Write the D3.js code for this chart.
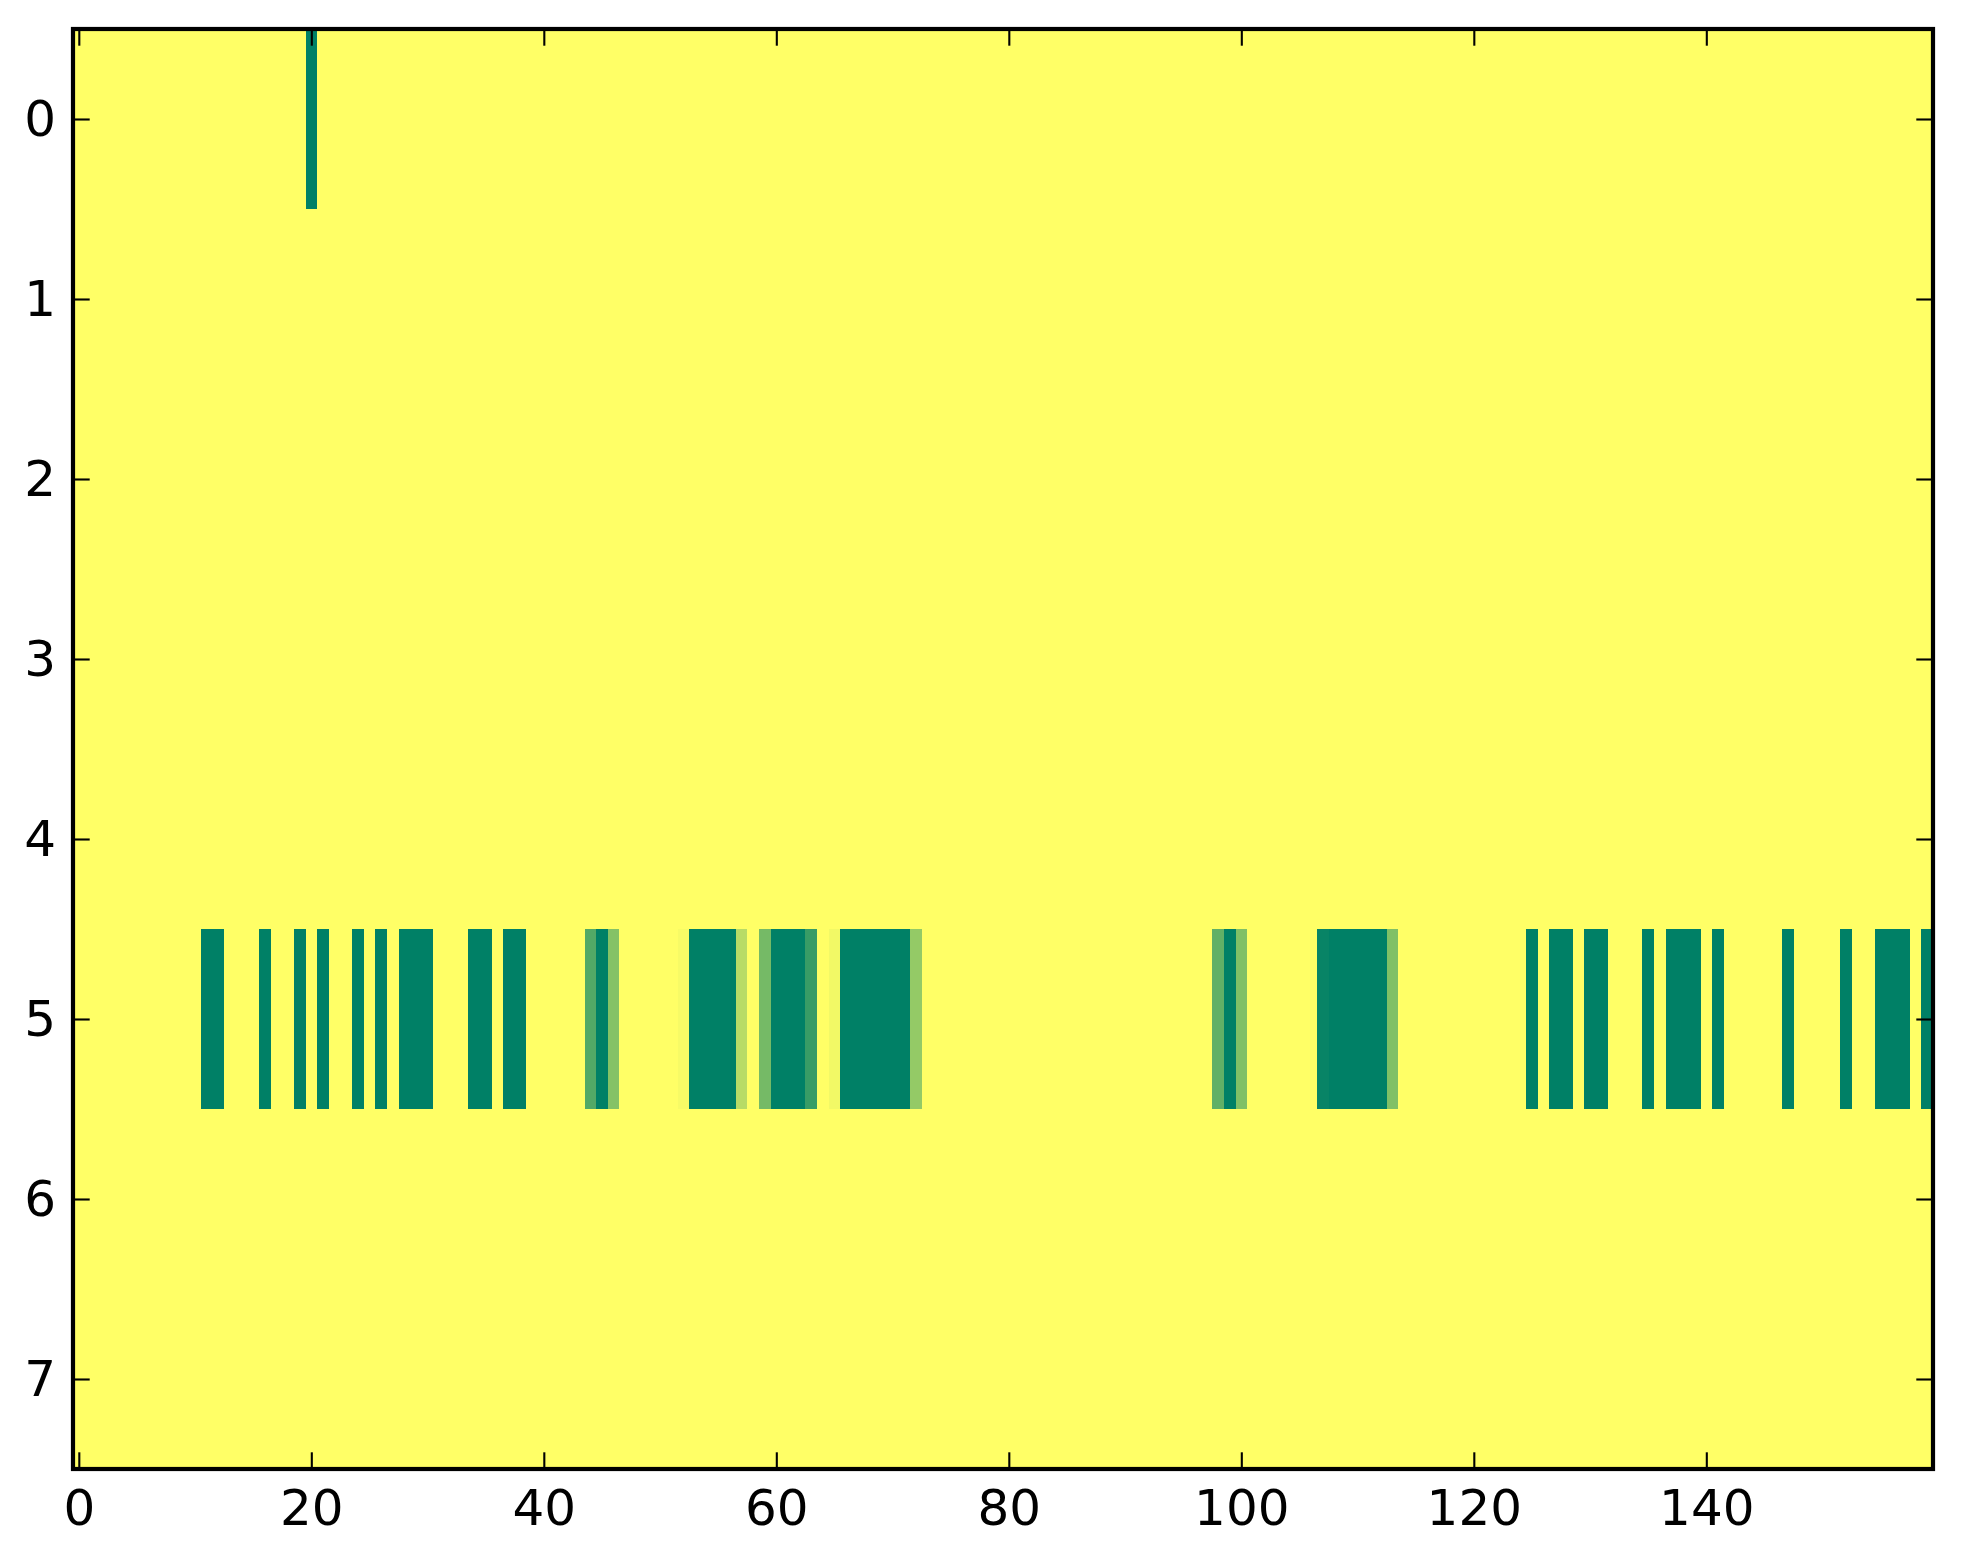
<!DOCTYPE html>
<html lang="en">
<head>
  <meta charset="UTF-8" />
  <title>Heatmap</title>
  <script src="https://d3js.org/d3.v7.min.js"></script>
  <style>
    body { margin: 0; background: #fff; }
    svg { display: block; font-family: "DejaVu Sans", sans-serif; }
    .tick text { font-size: 50px; fill: #000; }
    .tick line { stroke: #000; stroke-width: 2.1px; }
  </style>
</head>
<body>
  <svg width="1963" height="1564"></svg>

  <script>
    // grid: 8 rows x 160 columns, background value 1 (yellow)
    const rowIds = [0, 1, 2, 3, 4, 5, 6, 7];
    const colCount = 160;
    const baseValue = 1;

    // non-background cells as [column, value]
    const row0Cells = [[20, 0]];
    const row5Cells = [
      [11, 0], [12, 0], [16, 0], [19, 0], [21, 0], [24, 0], [26, 0],
      [28, 0], [29, 0], [30, 0], [34, 0], [35, 0], [37, 0], [38, 0],
      [44, 0.32], [45, 0], [46, 0.52],
      [52, 0.97], [53, 0], [54, 0], [55, 0], [56, 0], [57, 0.72],
      [59, 0.46], [60, 0], [61, 0], [62, 0], [63, 0.22],
      [65, 0.95], [66, 0], [67, 0], [68, 0], [69, 0], [70, 0], [71, 0], [72, 0.58],
      [98, 0.38], [99, 0], [100, 0.5],
      [107, 0.03], [108, 0], [109, 0], [110, 0], [111, 0], [112, 0], [113, 0.5],
      [125, 0], [127, 0], [128, 0], [130, 0], [131, 0], [135, 0],
      [137, 0], [138, 0], [139, 0], [141, 0], [147, 0], [152, 0],
      [155, 0], [156, 0], [157, 0], [159, 0]
    ];
    const specialCells = { 0: row0Cells, 5: row5Cells };

    const xTicks = [0, 20, 40, 60, 80, 100, 120, 140];
    const yTicks = [0, 1, 2, 3, 4, 5, 6, 7];

    // build the full grid
    const cells = [];
    rowIds.forEach(r => {
      const over = new Map(specialCells[r] || []);
      for (let c = 0; c < colCount; c++) {
        cells.push({ row: r, col: c, value: over.has(c) ? over.get(c) : baseValue });
      }
    });

    const plotL = 73, plotR = 1933, plotT = 29, plotB = 1469;

    const x = d3.scaleLinear().domain([-0.5, colCount - 0.5]).range([plotL, plotR]);
    const y = d3.scaleLinear().domain([-0.5, rowIds.length - 0.5]).range([plotT, plotB]);

    // matplotlib "summer" colormap
    const color = d3.scaleLinear()
      .domain([0, 1])
      .range(["#008066", "#ffff66"])
      .interpolate(d3.interpolateRgb);

    const svg = d3.select("svg");

    svg.append("g")
      .selectAll("rect")
      .data(cells)
      .join("rect")
      .attr("x", d => x(d.col - 0.5))
      .attr("y", d => y(d.row - 0.5))
      .attr("width", d => x(d.col + 0.5) - x(d.col - 0.5) + 0.4)
      .attr("height", d => y(d.row + 0.5) - y(d.row - 0.5) + 0.4)
      .attr("fill", d => color(d.value))
      .attr("shape-rendering", "crispEdges");

    const tickLen = 16.7;

    const xb = svg.append("g")
      .attr("transform", `translate(0,${plotB})`)
      .call(d3.axisBottom(x).tickValues(xTicks).tickSizeInner(-tickLen).tickSizeOuter(0).tickPadding(20));
    const xt = svg.append("g")
      .attr("transform", `translate(0,${plotT})`)
      .call(d3.axisTop(x).tickValues(xTicks).tickSizeInner(-tickLen).tickSizeOuter(0).tickFormat(""));
    const yl = svg.append("g")
      .attr("transform", `translate(${plotL},0)`)
      .call(d3.axisLeft(y).tickValues(yTicks).tickSizeInner(-tickLen).tickSizeOuter(0).tickPadding(17));
    const yr = svg.append("g")
      .attr("transform", `translate(${plotR},0)`)
      .call(d3.axisRight(y).tickValues(yTicks).tickSizeInner(-tickLen).tickSizeOuter(0).tickFormat(""));

    [xb, xt, yl, yr].forEach(g => {
      g.select(".domain").remove();
      g.attr("font-size", null).attr("font-family", null);
    });

    // frame
    svg.append("rect")
      .attr("x", plotL)
      .attr("y", plotT)
      .attr("width", plotR - plotL)
      .attr("height", plotB - plotT)
      .attr("fill", "none")
      .attr("stroke", "#000")
      .attr("stroke-width", 4.2);
  </script>
</body>
</html>
